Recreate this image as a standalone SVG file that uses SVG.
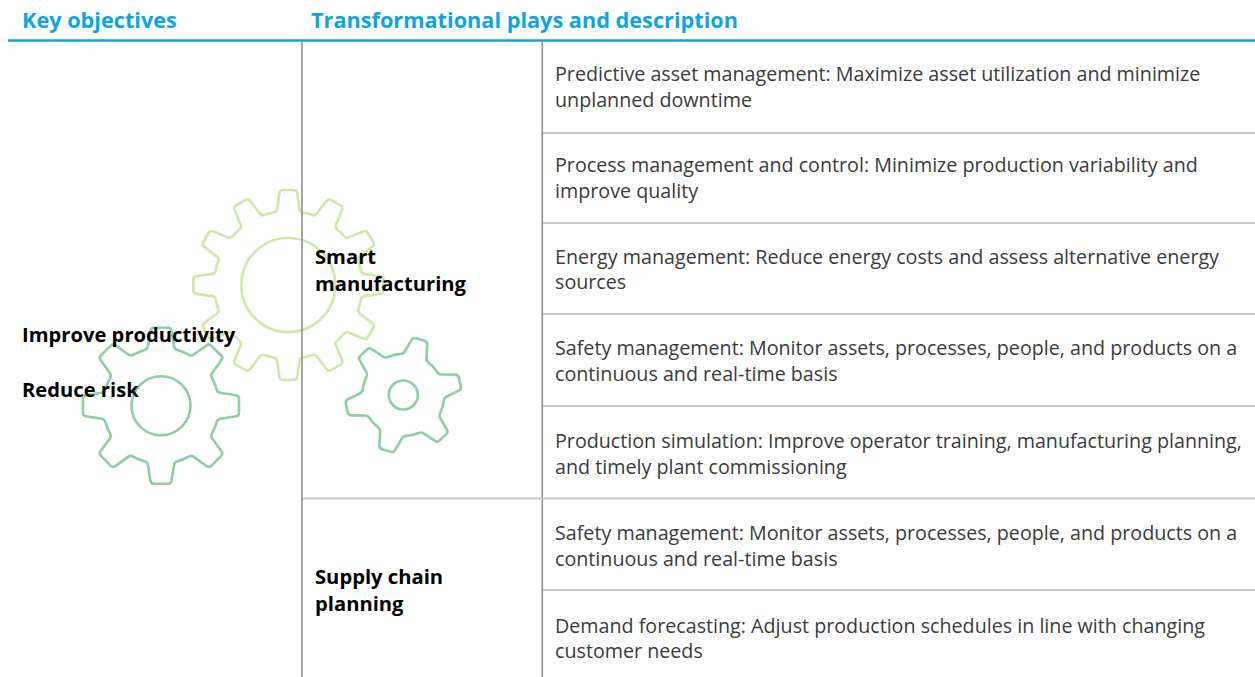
<svg xmlns="http://www.w3.org/2000/svg" xmlns:xlink="http://www.w3.org/1999/xlink" width="1255" height="677" viewBox="0 0 1255 677">
<style>
.hdr{font-family:"Open Sans","Liberation Sans",sans-serif;font-weight:bold;font-size:21.7px;fill:#0ea5de}
.lbl{font-family:"Open Sans","Liberation Sans",sans-serif;font-weight:bold;font-size:20.2px;fill:#000}
.txt{font-family:"Open Sans","Liberation Sans",sans-serif;font-size:19.7px;fill:#3a3a3a}
.vline{stroke:#8f8f8f;stroke-width:1.6}
.hline{stroke:#c8c8c8;stroke-width:2}
.g1{fill:none;stroke:#d0e7a6;stroke-width:2.6;stroke-linecap:round;stroke-linejoin:round}
.g2{fill:none;stroke:#8ccfa6;stroke-width:2.6;stroke-linecap:round;stroke-linejoin:round}
</style>
<defs>
<path id="t1" d="M -19.15 -71.48 A 74 74 0 0 1 -14.45 -72.58 Q -11.5 -73.1 -11.09 -76.07 L -8.91 -92.03 Q -8.5 -95 -5.5 -95 L 5.5 -95 Q 8.5 -95 8.91 -92.03 L 11.09 -76.07 Q 11.5 -73.1 14.45 -72.58 A 74 74 0 0 1 19.15 -71.48"/>
<path id="t2" d="M -22.2 -53.58 A 58 58 0 0 1 -16.4 -55.63 Q -13.5 -56.41 -13.02 -59.37 L -10.48 -75.04 Q -10 -78 -7 -78 L 7 -78 Q 10 -78 10.48 -75.04 L 13.02 -59.37 Q 13.5 -56.41 16.4 -55.63 A 58 58 0 0 1 22.2 -53.58"/>
<path id="t3" d="M -20.5 -35.51 A 41 41 0 0 1 -14.83 -38.22 Q -12 -39.2 -11.3 -42.12 L -8.2 -55.08 Q -7.5 -58 -4.5 -58 L 4.5 -58 Q 7.5 -58 8.2 -55.08 L 11.3 -42.12 Q 12 -39.2 14.83 -38.22 A 41 41 0 0 1 20.5 -35.51"/>
</defs>
<rect width="1255" height="677" fill="#fff"/>

<g id="gear-large" class="g1" transform="translate(288.3,285)">
<circle r="47"/>
<use href="#t1"/><use href="#t1" transform="rotate(30)"/><use href="#t1" transform="rotate(60)"/><use href="#t1" transform="rotate(90)"/>
<use href="#t1" transform="rotate(120)"/><use href="#t1" transform="rotate(150)"/><use href="#t1" transform="rotate(180)"/><use href="#t1" transform="rotate(210)"/>
<use href="#t1" transform="rotate(240)"/><use href="#t1" transform="rotate(270)"/><use href="#t1" transform="rotate(300)"/><use href="#t1" transform="rotate(330)"/>
</g>
<g id="gear-left" class="g2" transform="translate(161,405.7)">
<circle r="29.5"/>
<use href="#t2"/><use href="#t2" transform="rotate(45)"/><use href="#t2" transform="rotate(90)"/><use href="#t2" transform="rotate(135)"/>
<use href="#t2" transform="rotate(180)"/><use href="#t2" transform="rotate(225)"/><use href="#t2" transform="rotate(270)"/><use href="#t2" transform="rotate(315)"/>
</g>
<g id="gear-right" class="g2" transform="translate(403.3,395)">
<circle r="14.5"/>
<use href="#t3" transform="rotate(17)"/><use href="#t3" transform="rotate(77)"/><use href="#t3" transform="rotate(137)"/>
<use href="#t3" transform="rotate(197)"/><use href="#t3" transform="rotate(257)"/><use href="#t3" transform="rotate(317)"/>
</g>

<g id="connectors">
<line x1="8" y1="40.5" x2="1255" y2="40.5" stroke="#0ea5de" stroke-width="2.6"/>
<line class="vline" x1="302" y1="41.5" x2="302" y2="677"/>
<line class="vline" x1="542.3" y1="41.5" x2="542.3" y2="677"/>
<line class="hline" x1="543" y1="133" x2="1255" y2="133"/>
<line class="hline" x1="543" y1="223" x2="1255" y2="223"/>
<line class="hline" x1="543" y1="314" x2="1255" y2="314"/>
<line class="hline" x1="543" y1="406" x2="1255" y2="406"/>
<line class="hline" x1="303" y1="498.5" x2="1255" y2="498.5"/>
<line class="hline" x1="543" y1="590" x2="1255" y2="590"/>
</g>

<g id="header-objectives"><text class="hdr" x="22" y="28">Key objectives</text></g>
<g id="header-plays"><text class="hdr" x="311" y="28">Transformational plays and description</text></g>

<g id="objectives">
<text class="lbl" x="22" y="342">Improve productivity</text>
<text class="lbl" x="22" y="396.5">Reduce risk</text>
</g>

<g id="smart-manufacturing">
<text class="lbl" x="315" y="263.5">Smart</text>
<text class="lbl" x="315" y="290.5">manufacturing</text>
</g>
<g id="supply-chain-planning">
<text class="lbl" x="315" y="584">Supply chain</text>
<text class="lbl" x="315" y="611">planning</text>
</g>

<g id="play-1"><text class="txt" x="555" y="81">Predictive asset management: Maximize asset utilization and minimize</text><text class="txt" x="555" y="106.5">unplanned downtime</text></g>
<g id="play-2"><text class="txt" x="555" y="172">Process management and control: Minimize production variability and</text><text class="txt" x="555" y="197.5">improve quality</text></g>
<g id="play-3"><text class="txt" x="555" y="263.5">Energy management: Reduce energy costs and assess alternative energy</text><text class="txt" x="555" y="289">sources</text></g>
<g id="play-4"><text class="txt" x="555" y="355">Safety management: Monitor assets, processes, people, and products on a</text><text class="txt" x="555" y="380.5">continuous and real-time basis</text></g>
<g id="play-5"><text class="txt" x="555" y="448">Production simulation: Improve operator training, manufacturing planning,</text><text class="txt" x="555" y="473.5">and timely plant commissioning</text></g>
<g id="play-6"><text class="txt" x="555" y="540">Safety management: Monitor assets, processes, people, and products on a</text><text class="txt" x="555" y="565.5">continuous and real-time basis</text></g>
<g id="play-7"><text class="txt" x="555" y="632.5">Demand forecasting: Adjust production schedules in line with changing</text><text class="txt" x="555" y="658">customer needs</text></g>
</svg>
